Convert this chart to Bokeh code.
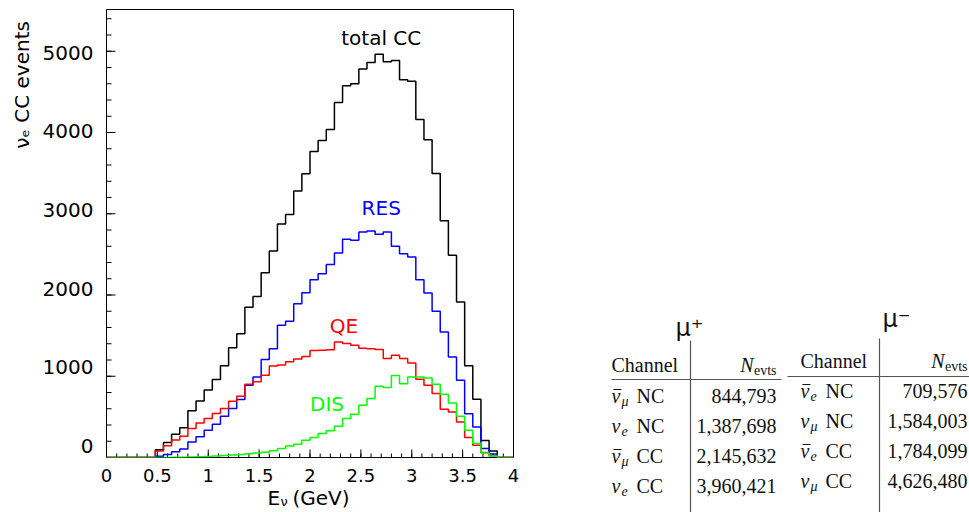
import numpy as np
from bokeh.plotting import figure
from bokeh.models import Range1d, Label
from bokeh.layouts import row, column
from bokeh.embed import file_html
from bokeh.resources import INLINE
from bokeh.core.properties import value

# ---------------- data ----------------
e_min, e_max, n_bins = 0.0, 4.0, 50   # 0.08 GeV bins

total_cc = [0, 0, 0, 0, 0, 0, 95, 185, 285, 365,
            574, 695, 830, 960, 1130, 1350, 1522, 1848, 1983, 2275,
            2541, 2875, 2992, 3279, 3492, 3767, 3902, 4038, 4370, 4575,
            4600, 4783, 4861, 4962, 4870, 4886, 4648, 4632, 4160, 3910,
            3495, 2915, 2488, 1914, 1130, 716, 210, 80, 0, 0]
res = [0, 0, 0, 0, 0, 0, 16, 36, 70, 106,
       192, 254, 336, 410, 508, 602, 713, 889, 992, 1205,
       1340, 1627, 1677, 1893, 2029, 2188, 2263, 2374, 2517, 2685,
       2673, 2775, 2788, 2747, 2775, 2599, 2509, 2468, 2188, 2024,
       1799, 1545, 1237, 950, 540, 376, 110, 42, 0, 0]
qe = [0, 0, 0, 0, 0, 0, 80, 145, 215, 262,
      356, 426, 479, 541, 602, 693, 754, 902, 931, 1013,
      1127, 1140, 1177, 1212, 1242, 1318, 1320, 1326, 1422, 1402,
      1381, 1345, 1340, 1328, 1217, 1258, 1217, 1164, 963, 889,
      787, 594, 561, 438, 246, 151, 62, 22, 0, 0]
dis = [0, 0, 0, 0, 0, 0, 0, 1, 2, 3,
       6, 9, 13, 18, 24, 30, 37, 45, 55, 65,
       82, 110, 143, 164, 213, 246, 295, 328, 385, 479,
       533, 643, 725, 877, 861, 1008, 909, 992, 992, 980,
       901, 778, 672, 508, 336, 171, 55, 20, 0, 0]

x_tick_values = [0, 0.5, 1, 1.5, 2, 2.5, 3, 3.5, 4]
x_tick_labels = ["0", "0.5", "1", "1.5", "2", "2.5", "3", "3.5", "4"]
y_tick_values = [0, 1000, 2000, 3000, 4000, 5000]
y_tick_labels = ["0", "1000", "2000", "3000", "4000", "5000"]
minor_per_major = 5

# tables
plus_bar = [True, False, True, False]
plus_sub = ["\u03bc", "e", "\u03bc", "e"]
plus_kind = ["NC", "NC", "CC", "CC"]
plus_nevts = [844793, 1387698, 2145632, 3960421]

minus_bar = [True, False, True, False]
minus_sub = ["e", "\u03bc", "e", "\u03bc"]
minus_kind = ["NC", "NC", "CC", "CC"]
minus_nevts = [709576, 1584003, 1784099, 4626480]

SANS = "DejaVu Sans"
SERIF = "Liberation Serif"
W_TOTAL, H_TOTAL = 969, 512
FRAME_L, FRAME_T, FRAME_W, FRAME_H = 106, 9, 407, 448
LEFT_W = 568
Y_MAX = 5514
BOTTOM_GAP = 6
TOP_H = FRAME_T + FRAME_H + BOTTOM_GAP      # height of the histogram row
YT_W = FRAME_L - 2                          # left panel: y title + y tick labels

upp_y = Y_MAX / FRAME_H                     # data units per pixel (y)
upp_x = (e_max - e_min) / FRAME_W           # data units per pixel (x)


def lift(size_px):
    """correction (px) for the downward shift seen in the rendered svg text"""
    return 0.3 * size_px


def blank(width, height, xr, yr):
    f = figure(width=width, height=height, x_range=Range1d(*xr),
               y_range=Range1d(*yr), output_backend="svg",
               toolbar_location=None, x_axis_location=None,
               y_axis_location=None, min_border_left=0, min_border_right=0,
               min_border_top=0, min_border_bottom=0)
    f.xgrid.visible = False
    f.ygrid.visible = False
    f.outline_line_color = None
    f.background_fill_color = "white"
    f.border_fill_color = "white"
    return f


def minors(ticks):
    step = (ticks[1] - ticks[0]) / minor_per_major
    return [ticks[0] + k * step
            for k in range((len(ticks) - 1) * minor_per_major + 1)]


# ---------------- histogram figure ----------------
p1 = figure(frame_width=FRAME_W, frame_height=FRAME_H,
            x_range=Range1d(e_min, e_max), y_range=Range1d(0, Y_MAX),
            output_backend="svg", toolbar_location=None,
            x_axis_location=None, y_axis_location=None,
            min_border_left=FRAME_L - YT_W,
            min_border_right=LEFT_W - FRAME_L - FRAME_W,
            min_border_top=FRAME_T, min_border_bottom=BOTTOM_GAP)
p1.xgrid.visible = False
p1.ygrid.visible = False
p1.outline_line_color = "black"
p1.outline_line_width = 1
p1.background_fill_color = "white"
p1.border_fill_color = "white"

# ticks pointing into the frame
xm = minors(x_tick_values + [x_tick_values[-1] + 0.5])[:-minor_per_major]
p1.segment(x0=xm, y0=[0] * len(xm), x1=xm, y1=[4 * upp_y] * len(xm),
           line_color="black", line_width=1)
p1.segment(x0=x_tick_values, y0=[0] * len(x_tick_values), x1=x_tick_values,
           y1=[8 * upp_y] * len(x_tick_values), line_color="black", line_width=1)
ym = [v for v in minors(y_tick_values + [6000]) if v <= Y_MAX]
p1.segment(x0=[e_min] * len(ym), y0=ym, x1=[e_min + 5 * upp_x] * len(ym), y1=ym,
           line_color="black", line_width=1)
p1.segment(x0=[e_min] * len(y_tick_values), y0=y_tick_values,
           x1=[e_min + 9 * upp_x] * len(y_tick_values), y1=y_tick_values,
           line_color="black", line_width=1)

edges = np.linspace(e_min, e_max, n_bins + 1)
for vals, color in [(total_cc, "#000000"), (res, "#0000ff"),
                    (qe, "#ff0000"), (dis, "#00ff00")]:
    p1.step(x=edges, y=list(vals) + [vals[-1]], mode="after",
            line_color=color, line_width=1.5)

for name, color, lx, ly in [("total CC", "black", 2.70, 5084),
                            ("RES", "#0000ff", 2.70, 2993),
                            ("QE", "#ff0000", 2.334, 1545),
                            ("DIS", "#00ff00", 2.167, 582)]:
    p1.add_layout(Label(x=lx, y=ly + lift(20) * upp_y, text=name,
                        text_color=color, text_font=SANS, text_font_size="20px",
                        text_align="center", text_baseline="alphabetic"))

# ---------------- left panel: y tick labels + y title (same y scale) --------
yt = blank(YT_W, TOP_H, (0, YT_W),
           (-BOTTOM_GAP * upp_y, Y_MAX + FRAME_T * upp_y))
yt.text(x=[93] * (len(y_tick_values) - 1),
        y=[v + lift(20) * upp_y for v in y_tick_values[1:]],
        text=y_tick_labels[1:], text_align="right", text_baseline="middle",
        text_font=value(SANS), text_font_size=value("20px"), text_color="black")
yt.text(x=[93], y=[y_tick_values[0] + lift(20) * upp_y], text=[y_tick_labels[0]],
        text_align="right", text_baseline="alphabetic",
        text_font=value(SANS), text_font_size=value("20px"), text_color="black")
yt.text(x=[27 - lift(20)], y=[Y_MAX - 3 * upp_y], text=["\u03bd\u2091 CC events"],
        angle=np.pi / 2, text_align="right", text_baseline="middle",
        text_font=value(SANS), text_font_size=value("20px"), text_color="black")

# ---------------- bottom panel: x tick labels + x title (same x scale) ------
XT_H = H_TOTAL - TOP_H
x_lo = e_min - FRAME_L * upp_x
x_hi = x_lo + LEFT_W * upp_x
xt = blank(LEFT_W, XT_H, (x_lo, x_hi), (0, XT_H))


def yb(yw, size_px):
    return H_TOTAL - (yw - lift(size_px))


def sx(xw):
    return x_lo + xw * upp_x


xt.text(x=x_tick_values, y=[yb(480, 18)] * len(x_tick_values), text=x_tick_labels,
        text_align="center", text_baseline="alphabetic",
        text_font=value(SANS), text_font_size=value("18px"), text_color="black")
xt.text(x=[sx(267)], y=[yb(503, 20)], text=["E"], text_align="left",
        text_baseline="alphabetic", text_font=value(SANS),
        text_font_size=value("20px"), text_color="black")
xt.text(x=[sx(280)], y=[yb(505, 13)], text=["\u03bd"], text_align="left",
        text_baseline="alphabetic", text_font=value(SANS),
        text_font_size=value("13px"), text_color="black")
xt.text(x=[sx(292)], y=[yb(503, 20)], text=["(GeV)"], text_align="left",
        text_baseline="alphabetic", text_font=value(SANS),
        text_font_size=value("20px"), text_color="black")

# ---------------- tables figure ----------------
X0 = LEFT_W
p2 = blank(W_TOTAL - LEFT_W, H_TOTAL, (X0, W_TOTAL), (0, H_TOTAL))


def Y(yw):
    """window pixel row -> data y of the table panel"""
    return H_TOTAL - yw


def txt(x, yw, t, size=20, font=SERIF, style="normal", align="left"):
    p2.text(x=[x], y=[Y(yw - lift(size))], text=[t], text_font=value(font),
            text_font_size=value(f"{size}px"), text_font_style=style,
            text_align=align, text_baseline="alphabetic", text_color="#111111")


def draw_table(sym, sym_x, sym_y, x_left, x_rule0, x_rule1, y_rule,
               x_vline, y_vline0, y_header, y_rows, x_right,
               bars, subs, kinds, nevts):
    txt(sym_x, sym_y, sym, size=24, font=SANS)
    p2.segment(x0=[x_rule0], y0=[Y(y_rule)], x1=[x_rule1], y1=[Y(y_rule)],
               line_color="#555555", line_width=1.2)
    p2.segment(x0=[x_vline], y0=[Y(y_vline0)], x1=[x_vline], y1=[0],
               line_color="#555555", line_width=1.2)
    txt(x_left, y_header, "Channel")
    txt(x_right - 23, y_header, "N", style="italic", align="right")
    txt(x_right, y_header + 4, "evts", size=14, align="right")
    for yr, b, s, k, n in zip(y_rows, bars, subs, kinds, nevts):
        txt(x_left, yr, "\u03bd", style="italic")
        if b:
            p2.segment(x0=[x_left + 2], y0=[Y(yr - 12)], x1=[x_left + 10],
                       y1=[Y(yr - 12)], line_color="#111111", line_width=1)
        txt(x_left + 10, yr + 4, s, size=14, style="italic")
        txt(x_left + 25, yr, k)
        txt(x_right, yr, f"{n:,}", align="right")


draw_table("\u03bc\u207a", 675, 335, 611, 611, 781, 379, 690, 340, 370,
           [401, 431, 461, 491], 776, plus_bar, plus_sub, plus_kind, plus_nevts)
draw_table("\u03bc\u207b", 882, 326, 800, 787, 969, 376, 879, 338, 366,
           [396, 426, 456, 486], 967, minus_bar, minus_sub, minus_kind, minus_nevts)

layout = row(column(row(yt, p1), xt), p2)
open("out.html", "w").write(file_html(layout, INLINE))
